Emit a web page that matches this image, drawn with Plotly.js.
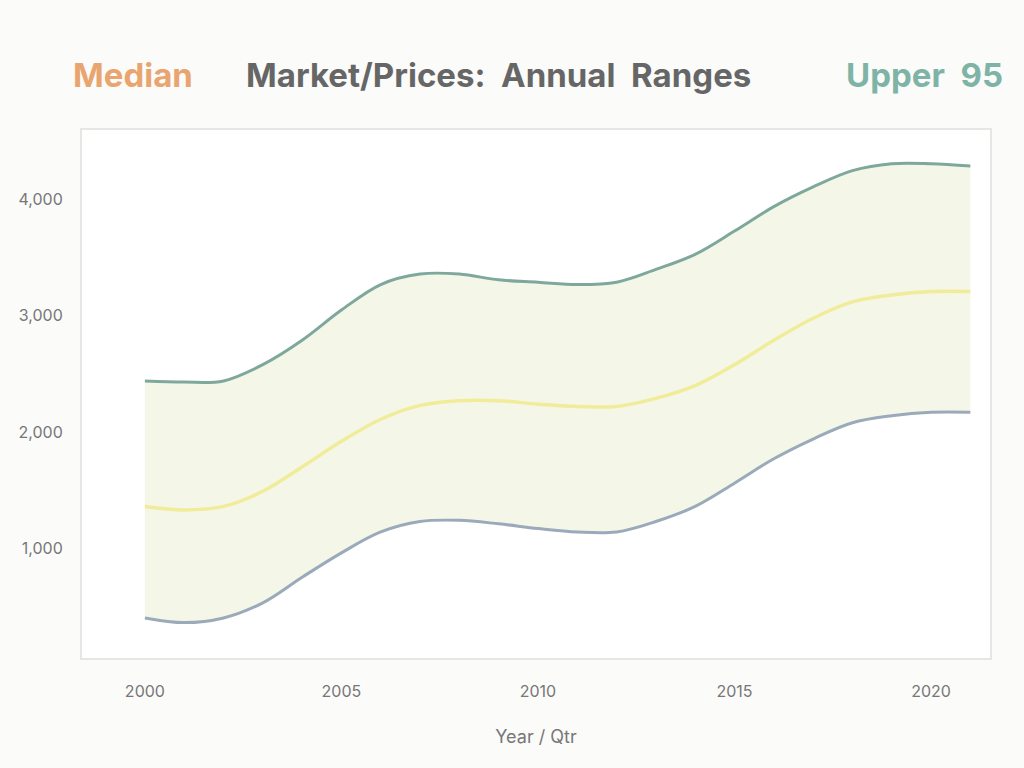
<!DOCTYPE html>
<html>
<head>
<meta charset="utf-8">
<script src="https://cdn.plot.ly/plotly-3.0.1.min.js"></script>
<style>
  body { margin: 0; background: #fbfbfa; }
  #chart { width: 1024px; height: 768px; }
</style>
</head>
<body>
<div id="chart"></div>
<script>
// Years on the x axis
var years = [2000, 2001, 2002, 2003, 2004, 2005, 2006, 2007, 2008, 2009, 2010,
             2011, 2012, 2013, 2014, 2015, 2016, 2017, 2018, 2019, 2020, 2021];

// Upper edge of the band
var upper = [2440, 2430, 2440, 2580, 2790, 3050, 3270, 3360, 3360, 3310, 3290,
             3270, 3290, 3400, 3530, 3730, 3940, 4110, 4250, 4310, 4310, 4290];

// Median line
var median = [1360, 1330, 1360, 1490, 1700, 1920, 2110, 2230, 2270, 2270, 2240,
              2220, 2220, 2290, 2400, 2580, 2790, 2980, 3120, 3180, 3210, 3210];

// Lower edge of the band
var lower = [400, 360, 400, 530, 750, 960, 1140, 1230, 1240, 1210, 1170,
             1140, 1140, 1230, 1360, 1560, 1770, 1940, 2080, 2140, 2170, 2170];

var yTicks = [1000, 2000, 3000, 4000];
var yTickText = ['1,000', '2,000', '3,000', '4,000'];
var xTicks = [2000, 2005, 2010, 2015, 2020];

var lowerTrace = {
    type: 'scatter',
    mode: 'lines',
    name: 'Lower',
    x: years,
    y: lower,
    line: {color: '#9aaabb', width: 3, shape: 'spline'},
    hoverinfo: 'x+y'
};

var upperTrace = {
    type: 'scatter',
    mode: 'lines',
    name: 'Upper',
    x: years,
    y: upper,
    fill: 'tonexty',
    fillcolor: 'rgba(214, 228, 170, 0.28)',
    line: {color: '#7fa89c', width: 3, shape: 'spline'},
    hoverinfo: 'x+y'
};

var medianTrace = {
    type: 'scatter',
    mode: 'lines',
    name: 'Median',
    x: years,
    y: median,
    line: {color: '#f1ec9a', width: 3.5, shape: 'spline'},
    hoverinfo: 'x+y'
};

var data = [lowerTrace, upperTrace, medianTrace];

var layout = {
    width: 1024,
    height: 768,
    showlegend: false,
    paper_bgcolor: '#fbfbfa',
    plot_bgcolor: '#ffffff',
    font: {family: 'Inter, "Open Sans", sans-serif', color: '#555'},
    title: {
        text: 'Market/Prices:  Annual  Ranges',
        font: {size: 33, color: '#666', weight: 700},
        x: 0.487,
        xanchor: 'center',
        y: 0.902,
        yanchor: 'middle'
    },
    // coloured words either side of the title
    annotations: [
        {
            text: 'Median',
            xref: 'paper', yref: 'paper',
            x: -0.012, y: 1.104,
            xanchor: 'left', yanchor: 'middle',
            showarrow: false,
            font: {size: 33, color: '#e9a56f', weight: 700}
        },
        {
            text: 'Upper  95',
            xref: 'paper', yref: 'paper',
            x: 1.016, y: 1.104,
            xanchor: 'right', yanchor: 'middle',
            showarrow: false,
            font: {size: 33, color: '#7fb3a6', weight: 700}
        }
    ],
    margin: {l: 82, r: 34, t: 130, b: 110},
    xaxis: {
        range: [1998.4, 2021.5],
        tickvals: xTicks,
        ticktext: xTicks.map(String),
        tickfont: {size: 16, color: '#777'},
        ticklabelstandoff: 18,
        showgrid: false,
        zeroline: false,
        showline: true,
        linecolor: '#e6e6e2',
        linewidth: 2,
        ticks: '',
        mirror: true,
        title: {text: 'Year / Qtr', font: {size: 18, color: '#777'}, standoff: 30}
    },
    yaxis: {
        range: [55, 4600],
        tickvals: yTicks,
        ticktext: yTickText,
        tickfont: {size: 16, color: '#777'},
        ticklabelstandoff: 14,
        showgrid: false,
        zeroline: false,
        showline: true,
        linecolor: '#e6e6e2',
        linewidth: 2,
        ticks: '',
        mirror: true
    }
};

Plotly.newPlot('chart', data, layout, {displayModeBar: false});
</script>
</body>
</html>
